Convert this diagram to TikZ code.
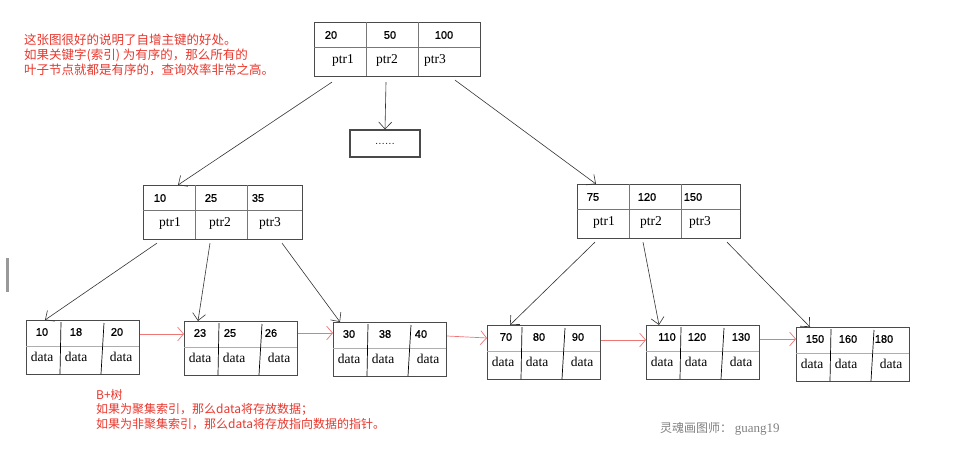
\documentclass[tikz,border=0pt]{standalone}
\usepackage{fontspec}
\newfontfamily\cjk{Noto Sans CJK SC}
\newfontfamily\numfont{Liberation Sans}[FakeBold=1]
\newfontfamily\valfont{Liberation Serif}
\usetikzlibrary{arrows.meta}

\definecolor{notered}{HTML}{E8362C}
\definecolor{linkred}{HTML}{F07575}
\definecolor{boxgray}{HTML}{4A4A4A}

\tikzset{
  box/.style={draw=boxgray, line width=1.1pt, inner sep=0pt},
  rule/.style={draw=boxgray!75, line width=0.7pt},
  key/.style={font=\numfont\fontsize{11}{13}\selectfont, inner sep=0pt},
  val/.style={font=\valfont\fontsize{13.5}{15}\selectfont, inner sep=0pt},
  link/.style={draw=black!80, line width=0.6pt, -{Straight Barb[length=7pt,width=13pt]}},
  nextleaf/.style={draw=linkred, line width=0.7pt, -{Straight Barb[length=6pt,width=14pt]}},
  note/.style={text=notered, align=left, inner sep=0pt},
}

% inner node: name, x, y, width, key offsets/keys, ptr offsets
\newcommand{\treebox}[6]{%
  \node[box, minimum width=#4, minimum height=54, anchor=north west] (#1) at (#2,#3) {};
  \draw[rule] (#1.north west) ++(0,25) -- ++(#4,0);
  \draw[rule] (#1.north west) ++(52,0) -- ++(0,54);
  \draw[rule] (#1.north west) ++(104,0) -- ++(0,54);
  \foreach \dx/\k [count=\i] in {#5}
    \path (#1.north west) ++(\dx,13) node[key] (#1-k\i) {\k};
  \foreach \dx [count=\i] in {#6}
    \path (#1.north west) ++(\dx,38) node[val] (#1-p\i) {ptr\i};
}

% leaf node: name, x, y, key offsets/keys
\newcommand{\leafbox}[4]{%
  \node[box, minimum width=113, minimum height=54, anchor=north west] (#1) at (#2,#3) {};
  \draw[rule, draw=boxgray!45] (#1.north west) ++(0,26) -- ++(113,0);
  \draw[rule, draw=black] (#1.north west) ++(35,2) -- ++(-1,52);
  \draw[rule, draw=black] (#1.north west) ++(78,3) -- ++(-3,51);
  \foreach \dx/\k [count=\i] in {#4}
    \path (#1.north west) ++(\dx,12) node[key] (#1-k\i) {\k};
  \foreach \dx [count=\i] in {16,50,95}
    \path (#1.north west) ++(\dx,37) node[val] (#1-d\i) {data};
}

\begin{document}
\begin{tikzpicture}[x=1pt, y=-1pt]
  \useasboundingbox (0,0) rectangle (976,453);
  \fill[gray!80] (6,258) rectangle (9,292);

  % root and inner nodes
  \treebox{root}{314}{22}{166}{17/20,76/50,130/100}{29,73,121}
  \node[box, minimum width=70, minimum height=27] (dots) at (385,143.5)
    {\fontsize{12}{14}\selectfont ......};
  \treebox{li}{143}{185}{159}{17/10,68/25,115/35}{27,77,127}
  \treebox{ri}{577}{184}{163}{16/75,70/120,116/150}{27,74,123}

  % leaves
  \leafbox{l1}{26}{320}{16/10,50/18,91/20}
  \leafbox{l2}{184}{321}{16/23,46/25,87/26}
  \leafbox{l3}{333}{322}{16/30,52/38,88/40}
  \leafbox{l4}{487}{325}{19/70,52/80,91/90}
  \leafbox{l5}{646}{325}{21/110,51/120,95/130}
  \leafbox{l6}{796}{327}{19/150,52/160,88/180}

  % pointers
  \draw[link] ([shift={(18,5)}]root.south west) -- ([shift={(35,0)}]li.north west);
  \draw[link] ([shift={(72,5)}]root.south west) -- (dots.north);
  \draw[link] ([shift={(141,3)}]root.south west) -- ([shift={(19,0)}]ri.north west);
  \draw[link] ([shift={(14,3)}]li.south west) -- ([shift={(19,0)}]l1.north west);
  \draw[link] ([shift={(67,3)}]li.south west) -- ([shift={(14,0)}]l2.north west);
  \draw[link] ([shift={(139,3)}]li.south west) -- ([shift={(7,0)}]l3.north west);
  \draw[link] ([shift={(18,3)}]ri.south west) -- ([shift={(23,0)}]l4.north west);
  \draw[link] ([shift={(66,3)}]ri.south west) -- ([shift={(13,0)}]l5.north west);
  \draw[link] ([shift={(150,3)}]ri.south west) -- ([shift={(14,0)}]l6.north west);

  % leaf chain
  \draw[nextleaf] ([shift={(0,14)}]l1.north east) -- ([shift={(0,13)}]l2.north west);
  \draw[nextleaf] ([shift={(0,12)}]l2.north east) -- ([shift={(0,11)}]l3.north west);
  \draw[nextleaf] ([shift={(0,14)}]l3.north east) -- ([shift={(0,13)}]l4.north west);
  \draw[nextleaf] ([shift={(0,15)}]l4.north east) -- ([shift={(0,15)}]l5.north west);
  \draw[nextleaf] ([shift={(0,14)}]l5.north east) -- ([shift={(0,12)}]l6.north west);

  % notes
  \node[note, anchor=north west, font=\cjk\fontsize{12.5}{15}\selectfont] (intro) at (24,34)
    {这张图很好的说明了自增主键的好处。\\如果关键字(索引) 为有序的，那么所有的\\叶子节点就都是有序的，查询效率非常之高。};
  \node[note, anchor=north west, font=\cjk\fontsize{12}{14.5}\selectfont] (legend) at (96,389)
    {B+树\\如果为聚集索引，那么data将存放数据；\\如果为非聚集索引，那么data将存放指向数据的指针。};
  \node[text=gray, anchor=west, inner sep=0pt, font=\cjk\fontsize{12}{14}\selectfont] (sign) at (660,429)
    {灵魂画图师：\ {\valfont\fontsize{13}{14}\selectfont guang19}};
\end{tikzpicture}
\end{document}
